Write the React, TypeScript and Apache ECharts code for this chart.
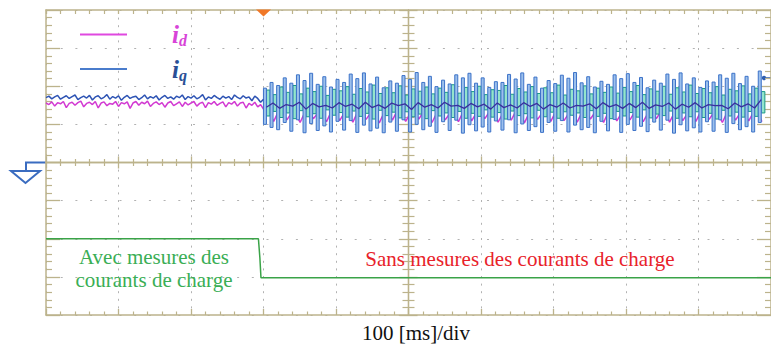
import React, { useEffect, useRef } from 'react';
import * as echarts from 'echarts';

// time axis in ms (100 ms/div, centre of screen = 0), vertical axis in divisions (centre = 0)
const X_MIN = -500;
const X_MAX = 500;
const X_STEP = 100;
const Y_MIN = -4;
const Y_MAX = 4;
const Y_STEP = 1;

const PRE_START = -500;
const PRE_STEP = 4;
const RIP_START = -198;
const RIP_STEP = 9.1;

const iqPre = [
  1.70, 1.74, 1.67, 1.72, 1.76, 1.66, 1.71, 1.75, 1.68, 1.73,
  1.77, 1.65, 1.70, 1.74, 1.69, 1.76, 1.64, 1.72, 1.75, 1.67,
  1.71, 1.78, 1.66, 1.73, 1.69, 1.75, 1.63, 1.71, 1.76, 1.68,
  1.72, 1.74, 1.65, 1.70, 1.77, 1.67, 1.73, 1.69, 1.75, 1.64,
  1.71, 1.76, 1.68, 1.72, 1.66, 1.74, 1.70, 1.77, 1.65, 1.73,
  1.69, 1.75, 1.67, 1.71, 1.78, 1.64, 1.72, 1.68, 1.76, 1.70,
  1.66, 1.74, 1.69, 1.73, 1.65, 1.77, 1.71, 1.67, 1.75, 1.69,
  1.72, 1.62, 1.74, 1.68, 1.58, 1.66,
];

const idPre = [
  1.56, 1.52, 1.59, 1.48, 1.57, 1.54, 1.60, 1.44, 1.55, 1.58,
  1.50, 1.57, 1.61, 1.46, 1.55, 1.58, 1.52, 1.60, 1.43, 1.56,
  1.59, 1.49, 1.55, 1.53, 1.60, 1.47, 1.57, 1.54, 1.59, 1.42,
  1.56, 1.60, 1.50, 1.58, 1.54, 1.61, 1.47, 1.55, 1.59, 1.52,
  1.57, 1.45, 1.56, 1.60, 1.49, 1.54, 1.59, 1.47, 1.58, 1.51,
  1.56, 1.60, 1.48, 1.55, 1.58, 1.44, 1.57, 1.53, 1.60, 1.50,
  1.55, 1.59, 1.46, 1.57, 1.53, 1.60, 1.48, 1.56, 1.58, 1.43,
  1.55, 1.50, 1.58, 1.46, 1.52, 1.40,
];

const iqHigh = [
  1.95, 2.10, 2.02, 2.22, 2.08, 2.30, 2.15, 2.34, 2.05, 2.25, 1.98, 2.18,
  2.10, 2.32, 2.20, 2.35, 2.06, 2.24, 1.96, 2.14, 2.08, 2.28, 2.18, 2.36,
  2.10, 2.26, 1.99, 2.16, 2.06, 2.30, 2.22, 2.34, 2.08, 2.22, 1.97, 2.12,
  2.10, 2.31, 2.19, 2.35, 2.05, 2.24, 1.95, 2.15, 2.07, 2.29, 2.21, 2.36,
  2.09, 2.25, 1.98, 2.13, 2.05, 2.30, 2.20, 2.33, 2.10, 2.23, 1.96, 2.16,
  2.08, 2.32, 2.18, 2.35, 2.06, 2.22, 1.97, 2.14, 2.11, 2.30, 2.21, 2.34,
  2.07, 2.26, 2.00, 2.40,
];

const iqLow = [
  1.00, 0.92, 0.86, 1.05, 0.82, 1.12, 0.78, 1.02, 0.84, 0.96, 0.80, 1.08,
  0.85, 1.10, 0.79, 0.98, 0.83, 0.90, 0.78, 1.06, 0.82, 1.12, 0.80, 1.00,
  0.86, 0.95, 0.79, 1.07, 0.84, 1.11, 0.77, 0.99, 0.83, 0.93, 0.80, 1.09,
  0.85, 1.12, 0.78, 1.01, 0.84, 0.94, 0.79, 1.05, 0.82, 1.10, 0.80, 0.98,
  0.86, 0.92, 0.78, 1.08, 0.83, 1.13, 0.79, 1.00, 0.84, 0.95, 0.81, 1.06,
  0.85, 1.11, 0.77, 0.99, 0.83, 0.91, 0.80, 1.07, 0.82, 1.12, 0.79, 1.02,
  0.86, 0.94, 0.80, 1.05,
];

const tealHigh = [
  1.90, 1.78, 1.98, 1.84, 2.02, 1.80, 1.95, 1.86, 2.00, 1.76, 1.92, 1.88,
  1.99, 1.79, 1.94, 1.85, 2.03, 1.81, 1.96, 1.83, 2.01, 1.77, 1.93, 1.87,
  1.98, 1.80, 1.95, 1.84, 2.04, 1.82, 1.97, 1.86, 2.00, 1.78, 1.91, 1.89,
  2.02, 1.79, 1.94, 1.85, 1.99, 1.81, 1.96, 1.83, 2.03, 1.77, 1.92, 1.88,
  2.01, 1.80, 1.95, 1.84, 1.98, 1.82, 1.97, 1.86, 2.02, 1.78, 1.93, 1.87,
  2.00, 1.79, 1.96, 1.85, 2.03, 1.81, 1.94, 1.83, 1.99, 1.77, 1.92, 1.88,
  2.01, 1.80, 1.95, 1.86,
];

const tealLow = [
  1.22, 1.34, 1.18, 1.30, 1.15, 1.36, 1.20, 1.28, 1.16, 1.38, 1.24, 1.31,
  1.19, 1.35, 1.21, 1.29, 1.14, 1.37, 1.23, 1.32, 1.17, 1.33, 1.20, 1.27,
  1.15, 1.36, 1.22, 1.30, 1.18, 1.34, 1.16, 1.29, 1.21, 1.38, 1.19, 1.31,
  1.14, 1.35, 1.23, 1.28, 1.17, 1.37, 1.20, 1.32, 1.16, 1.33, 1.24, 1.30,
  1.18, 1.36, 1.21, 1.29, 1.15, 1.34, 1.22, 1.31, 1.19, 1.38, 1.17, 1.27,
  1.23, 1.35, 1.16, 1.30, 1.20, 1.33, 1.18, 1.29, 1.14, 1.37, 1.22, 1.32,
  1.19, 1.34, 1.21, 1.30,
];

const navyPost = [
  1.45, 1.56, 1.42, 1.52, 1.48, 1.58, 1.40, 1.55, 1.46, 1.50, 1.43, 1.57,
  1.47, 1.53, 1.41, 1.58, 1.44, 1.51, 1.42, 1.56, 1.49, 1.54, 1.39, 1.57,
  1.45, 1.52, 1.43, 1.58, 1.48, 1.50, 1.42, 1.55, 1.46, 1.53, 1.40, 1.56,
  1.44, 1.51, 1.43, 1.57, 1.47, 1.55, 1.40, 1.52, 1.45, 1.56, 1.43, 1.50,
  1.48, 1.54, 1.41, 1.57, 1.46, 1.52, 1.42, 1.55, 1.44, 1.58, 1.42, 1.51,
  1.47, 1.56, 1.40, 1.53, 1.45, 1.57, 1.43, 1.52, 1.49, 1.50, 1.41, 1.56,
  1.46, 1.54, 1.43, 1.65,
];

const idPost = [
  1.40, 1.08, 1.45, 1.12, 1.38, 1.05, 1.42, 1.15, 1.36, 1.07, 1.44, 1.10,
  1.39, 1.06, 1.43, 1.13, 1.37, 1.04, 1.41, 1.11, 1.46, 1.08, 1.38, 1.14,
  1.42, 1.05, 1.40, 1.12, 1.36, 1.07, 1.44, 1.09, 1.39, 1.15, 1.41, 1.06,
  1.37, 1.11, 1.45, 1.04, 1.40, 1.13, 1.38, 1.08, 1.43, 1.10, 1.36, 1.06,
  1.42, 1.14, 1.39, 1.05, 1.44, 1.09, 1.37, 1.12, 1.41, 1.07, 1.38, 1.15,
  1.43, 1.06, 1.40, 1.10, 1.36, 1.08, 1.45, 1.13, 1.39, 1.05, 1.42, 1.11,
  1.38, 1.09, 1.41, 1.07,
];

const modeTimes = [-500, -207, -205, -203.5, 500];
const modeValues = [-2.0, -2.0, -2.5, -3.02, -3.02];

const TRIGGER_TIME = -200;

const leftNote = 'Avec mesures des\ncourants de charge';
const rightNote = 'Sans mesures des courants de charge';
const timeBase = '100 [ms]/div';

const TAN = '#bcb38c';
const GRIDDOT = '#b2b2b2';
const SERIF = '"Liberation Serif", "Times New Roman", serif';

function barsRender(width: number, fill: string, stroke: string) {
  return (params: any, api: any) => {
    const t = api.value(0);
    const lo = api.value(1);
    const hi = api.value(2);
    const top = api.coord([t, hi]);
    const bot = api.coord([t, lo]);
    return {
      type: 'rect',
      shape: { x: top[0] - width / 2, y: top[1], width, height: bot[1] - top[1] },
      style: { fill, stroke, lineWidth: 1 },
    };
  };
}

function borderX(extra: any) {
  return {
    type: 'value',
    min: X_MIN,
    max: X_MAX,
    interval: X_STEP,
    axisLabel: { show: false },
    splitLine: { show: false },
    axisLine: { show: true, onZero: false, lineStyle: { color: TAN, width: 1.5 } },
    axisTick: { show: true, inside: true, length: 5, lineStyle: { color: TAN, width: 1.3 } },
    minorTick: { show: true, splitNumber: 5, length: 3.5, lineStyle: { color: TAN, width: 1.2 } },
    ...extra,
  };
}

function borderY(extra: any) {
  return {
    type: 'value',
    min: Y_MIN,
    max: Y_MAX,
    interval: Y_STEP,
    axisLabel: { show: false },
    splitLine: { show: false },
    axisLine: { show: true, onZero: false, lineStyle: { color: TAN, width: 1.5 } },
    axisTick: { show: true, inside: true, length: 14, lineStyle: { color: TAN, width: 1.3 } },
    minorTick: { show: true, splitNumber: 5, length: 6, lineStyle: { color: TAN, width: 1.2 } },
    ...extra,
  };
}

export default function App() {
  const ref = useRef<HTMLDivElement>(null);

  useEffect(() => {
    if (!ref.current) return;
    const chart = echarts.init(ref.current, undefined, { renderer: 'svg' });

    const preT = (i: number) => PRE_START + i * PRE_STEP;
    const ripT = (i: number) => RIP_START + i * RIP_STEP;

    const iqPreData = iqPre.map((v, i) => [preT(i), v]);
    const idData = [
      ...idPre.map((v, i) => [preT(i), v]),
      ...idPost.map((v, i) => [ripT(i) + 3, v]),
    ];
    const iqBars = iqHigh.map((h, i) => [ripT(i), iqLow[i], h]);
    const tealBars = tealHigh.map((h, i) => [ripT(i) + RIP_STEP / 2, tealLow[i], h]);
    const navyData = navyPost.map((v, i) => [ripT(i) + 2, v]);
    const modeData = modeTimes.map((t, i) => [t, modeValues[i]]);

    const option: any = {
      animation: false,
      backgroundColor: '#ffffff',
      grid: { left: 46, top: 10, width: 734, height: 305, containLabel: false },
      legend: {
        orient: 'vertical',
        left: 80,
        top: 22,
        padding: 0,
        itemGap: 8,
        itemWidth: 47,
        itemHeight: 2,
        icon: 'rect',
        data: [
          { name: 'id', itemStyle: { color: '#e048e0' } },
          { name: 'iq', itemStyle: { color: '#4a7ccc' } },
        ],
        formatter: (n: string) => (n === 'id' ? '{a|i}{b|d}' : '{c|i}{e|q}'),
        textStyle: {
          rich: {
            a: { fontFamily: SERIF, fontStyle: 'italic', fontWeight: 'bold', fontSize: 25, color: '#d844d8', lineHeight: 28, padding: [0, 0, 0, 40] },
            b: { fontFamily: SERIF, fontStyle: 'italic', fontWeight: 'bold', fontSize: 16, color: '#d844d8', lineHeight: 16, verticalAlign: 'bottom' },
            c: { fontFamily: SERIF, fontStyle: 'italic', fontWeight: 'bold', fontSize: 25, color: '#2a4f96', lineHeight: 28, padding: [0, 0, 0, 40] },
            e: { fontFamily: SERIF, fontStyle: 'italic', fontWeight: 'bold', fontSize: 16, color: '#2a4f96', lineHeight: 16, verticalAlign: 'bottom' },
          },
        },
      },
      xAxis: [
        borderX({
          position: 'bottom',
          axisTick: { show: true, inside: true, length: 6, lineStyle: { color: TAN, width: 1.3 } },
          splitLine: { show: true, lineStyle: { color: GRIDDOT, width: 1, type: [2, 5.6] } },
        }),
        borderX({ position: 'top', axisTick: { show: true, inside: true, length: 4, lineStyle: { color: TAN, width: 1.3 } }, minorTick: { show: true, splitNumber: 5, length: 4, lineStyle: { color: TAN, width: 1.2 } } }),
        borderX({
          position: 'bottom',
          axisLine: { show: true, onZero: true, onZeroAxisIndex: 0, lineStyle: { color: TAN, width: 1.3 } },
          axisTick: { show: true, inside: true, length: 6, lineStyle: { color: TAN, width: 1.3 } },
          minorTick: { show: true, splitNumber: 5, length: 3.5, lineStyle: { color: TAN, width: 1.2 } },
        }),
        borderX({
          position: 'bottom',
          axisLine: { show: true, onZero: true, onZeroAxisIndex: 0, lineStyle: { color: TAN, width: 1.3 } },
          axisTick: { show: true, inside: false, length: 6, lineStyle: { color: TAN, width: 1.3 } },
          minorTick: { show: true, splitNumber: 5, length: 3.5, lineStyle: { color: TAN, width: 1.2 } },
        }),
      ],
      yAxis: [
        borderY({
          position: 'left',
          splitLine: { show: true, lineStyle: { color: GRIDDOT, width: 1, type: [2, 12.7] } },
        }),
        borderY({ position: 'right' }),
        borderY({
          position: 'left',
          axisLine: { show: true, onZero: true, onZeroAxisIndex: 0, lineStyle: { color: TAN, width: 1.3 } },
          axisTick: { show: true, inside: false, length: 9, lineStyle: { color: TAN, width: 1.3 } },
          minorTick: { show: true, splitNumber: 5, length: 6, lineStyle: { color: TAN, width: 1.2 } },
        }),
        borderY({
          position: 'left',
          axisLine: { show: true, onZero: true, onZeroAxisIndex: 0, lineStyle: { color: TAN, width: 1.3 } },
          axisTick: { show: true, inside: true, length: 9, lineStyle: { color: TAN, width: 1.3 } },
          minorTick: { show: true, splitNumber: 5, length: 6, lineStyle: { color: TAN, width: 1.2 } },
        }),
      ],
      series: [
        {
          name: 'id',
          type: 'line',
          data: idData,
          showSymbol: false,
          symbol: 'none',
          lineStyle: { color: '#d23ad2', width: 1.5 },
          itemStyle: { color: '#e048e0' },
          z: 2,
        },
        {
          name: 'teal ripple',
          type: 'custom',
          data: tealBars,
          encode: { x: 0, y: [1, 2] },
          renderItem: barsRender(3.6, '#94e4cc', '#1a9a84'),
          z: 3,
        },
        {
          name: 'iq ripple',
          type: 'custom',
          data: iqBars,
          encode: { x: 0, y: [1, 2] },
          renderItem: barsRender(3, '#9cc0ec', '#3c72c8'),
          z: 4,
        },
        {
          name: 'navy',
          type: 'line',
          data: navyData,
          showSymbol: false,
          symbol: 'none',
          lineStyle: { color: '#3a2f9c', width: 1.3 },
          z: 5,
        },
        {
          name: 'iq',
          type: 'line',
          data: iqPreData,
          showSymbol: false,
          symbol: 'none',
          lineStyle: { color: '#2e54b4', width: 1.5 },
          itemStyle: { color: '#4a7ccc' },
          z: 6,
        },
        {
          name: 'mode',
          type: 'line',
          data: modeData,
          showSymbol: false,
          symbol: 'none',
          lineStyle: { color: '#3aa348', width: 1.5 },
          z: 6,
          markPoint: {
            silent: true,
            symbol: 'triangle',
            symbolSize: [15, 7],
            symbolRotate: 180,
            symbolOffset: [0, 3],
            itemStyle: { color: '#f07828' },
            label: { show: false },
            data: [{ coord: [TRIGGER_TIME, Y_MAX] }],
          },
        },
      ],
      graphic: [
        {
          type: 'polyline',
          shape: { points: [[46, 162.5], [26, 162.5], [26, 171]] },
          style: { stroke: '#3a6cc0', lineWidth: 2, fill: 'none' },
        },
        {
          type: 'polygon',
          shape: { points: [[11, 171], [40, 171], [25.5, 183]] },
          style: { stroke: '#3a6cc0', lineWidth: 2, fill: '#ffffff' },
        },
        {
          type: 'line',
          shape: { x1: 764, y1: 78, x2: 771, y2: 78 },
          style: { stroke: '#2f5fb0', lineWidth: 1.5 },
        },
        {
          type: 'circle',
          shape: { cx: 764, cy: 78, r: 2.2 },
          style: { fill: '#2f5fb0' },
        },
        {
          type: 'text',
          x: 154,
          y: 268,
          style: {
            text: leftNote,
            fill: '#3aae55',
            font: `21px ${SERIF}`,
            lineHeight: 23,
            align: 'center',
            verticalAlign: 'middle',
          },
          z: 10,
        },
        {
          type: 'text',
          x: 520,
          y: 259,
          style: {
            text: rightNote,
            fill: '#e8222a',
            font: `21px ${SERIF}`,
            align: 'center',
            verticalAlign: 'middle',
          },
          z: 10,
        },
        {
          type: 'text',
          x: 416,
          y: 333,
          style: {
            text: timeBase,
            fill: '#111111',
            font: `21px ${SERIF}`,
            align: 'center',
            verticalAlign: 'middle',
          },
          z: 10,
        },
      ],
    };

    chart.setOption(option);
    return () => chart.dispose();
  }, []);

  return <div ref={ref} style={{ width: 771, height: 347, position: 'absolute', left: 0, top: 0 }} />;
}
